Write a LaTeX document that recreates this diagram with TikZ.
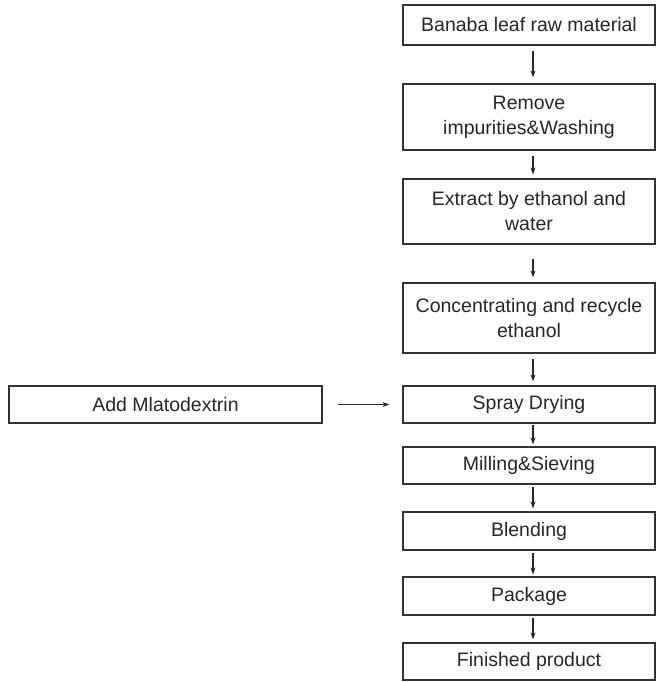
\documentclass[tikz,border=0pt]{standalone}
\usepackage{fontspec}
\setmainfont{Liberation Sans}
\usetikzlibrary{arrows.meta}
\begin{document}
\begin{tikzpicture}[x=1pt, y=1pt,
  every node/.style={font=\fontsize{19.5}{25}\selectfont, text=black!85},
  stepbox/.style={draw=black!80, line width=1.2pt, minimum width=252pt, align=center, inner sep=0pt},
  flow/.style={-{Stealth[length=7pt,width=5pt]}, line width=1.1pt, black!85}]
\useasboundingbox (0,0) rectangle (656,682);
% main process chain
\node[stepbox, minimum height=40pt] (raw)    at (529,657)   {Banaba leaf raw material};
\node[stepbox, minimum height=66pt] (wash)   at (529,565)   {Remove\\impurities\&Washing};
\node[stepbox, minimum height=65pt] (ext)    at (529,470.5) {Extract by ethanol and\\water};
\node[stepbox, minimum height=70pt] (conc)   at (529,364)   {Concentrating and recycle\\ethanol};
\node[stepbox, minimum height=37pt] (spray)  at (529,277.5) {Spray Drying};
\node[stepbox, minimum height=37pt] (mill)   at (529,216.5) {Milling\&Sieving};
\node[stepbox, minimum height=38pt] (blend)  at (529,151)   {Blending};
\node[stepbox, minimum height=38pt] (pack)   at (529,86)    {Package};
\node[stepbox, minimum height=37pt] (fin)    at (529,20.5)  {Finished product};
% side input
\node[stepbox, minimum width=313pt, minimum height=37pt] (malto) at (165.5,277.5) {Add Mlatodextrin};
\foreach \a/\b/\s/\e in {raw/wash/5/6,wash/ext/5/4,ext/conc/14/5,conc/spray/5/4,spray/mill/1/2,mill/blend/2/3,blend/pack/2/2,pack/fin/2/3} {
  \draw[flow, shorten <=\s pt, shorten >=\e pt] ([xshift=4pt]\a.south) -- ([xshift=4pt]\b.north);
}
\draw[flow, line width=1.5pt, shorten <=15pt, shorten >=13pt] (malto.east) -- (spray.west);
\end{tikzpicture}
\end{document}
